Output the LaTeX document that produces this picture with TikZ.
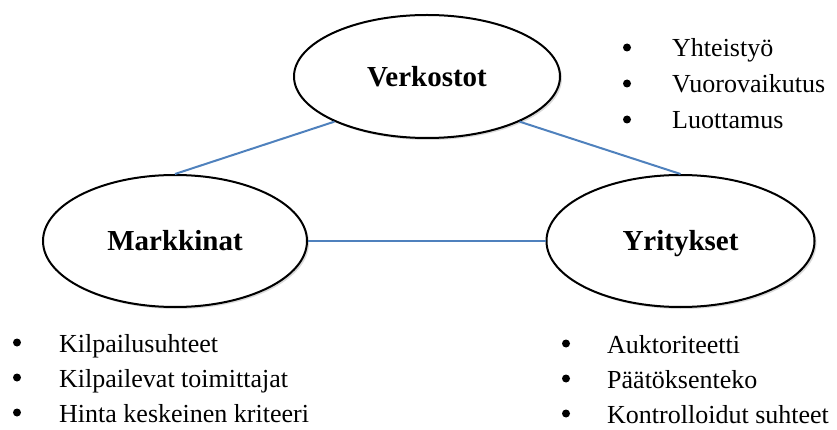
\documentclass[tikz,border=0pt]{standalone}
\usepackage{fontspec}
\setmainfont{Liberation Serif}
\usetikzlibrary{shapes.geometric,shadows}
\definecolor{linkblue}{RGB}{79,129,189}
\begin{document}
\begin{tikzpicture}[x=1pt,y=-1pt,
  hub/.style={ellipse,draw=black,line width=2pt,fill=white,inner sep=0pt,
    text height=20pt,text depth=0pt,
    font=\fontsize{29}{34}\selectfont\bfseries,
    drop shadow={shadow xshift=2pt,shadow yshift=-2pt,opacity=0.25,fill=black!60}},
  link/.style={draw=linkblue,line width=2pt},
  item/.style={anchor=base west,inner sep=0pt,font=\fontsize{26}{30}\selectfont},
  dot/.style={circle,fill=black,inner sep=0pt,minimum size=8pt}]
\useasboundingbox (0,0) rectangle (837,430);

% the three actors
\node[hub,minimum width=266pt,minimum height=123pt] (verk) at (427,76.5) {Verkostot};
\node[hub,minimum width=264pt,minimum height=132pt] (mark) at (175,241) {Markkinat};
\node[hub,minimum width=268pt,minimum height=132pt] (yrit) at (680.5,241) {Yritykset};

% relations between them
\draw[link] (verk.206) -- (mark.north);
\draw[link] (verk.334) -- (yrit.north);
\draw[link] (mark.east) -- (yrit.west);

% features of networks
\foreach \t [count=\i] in {Yhteistyö,Vuorovaikutus,Luottamus}{
  \node[dot] (vb\i) at (627,{47.5+36*(\i-1)}) {};
  \node[item] (vt\i) at (672,{57+36*(\i-1)}) {\t};
}
% features of markets
\foreach \t [count=\i] in {Kilpailusuhteet,Kilpailevat toimittajat,Hinta keskeinen kriteeri}{
  \node[dot] (mb\i) at (17,{342.5+35*(\i-1)}) {};
  \node[item] (mt\i) at (59,{352+35*(\i-1)}) {\t};
}
% features of firms
\foreach \t [count=\i] in {Auktoriteetti,Päätöksenteko,Kontrolloidut suhteet}{
  \node[dot] (yb\i) at (566,{343.5+35*(\i-1)}) {};
  \node[item] (yt\i) at (607,{353+35*(\i-1)}) {\t};
}
\end{tikzpicture}
\end{document}
